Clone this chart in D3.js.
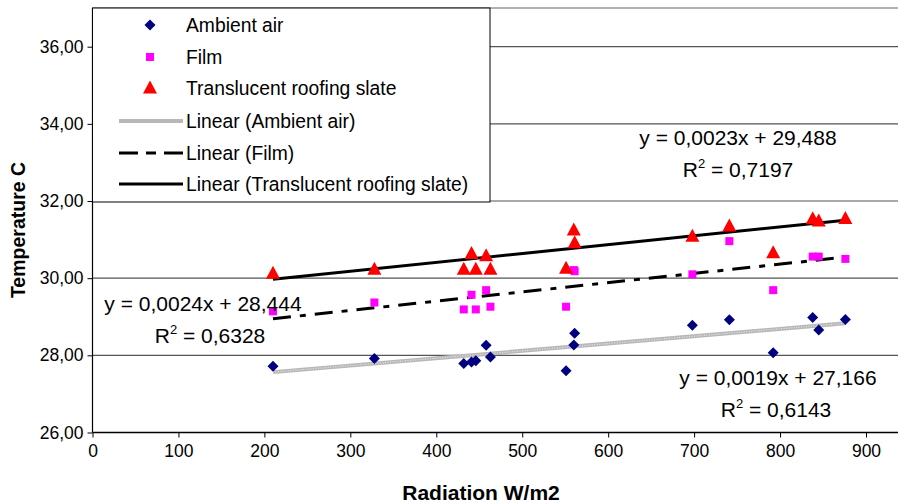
<!DOCTYPE html>
<html><head><meta charset="utf-8">
<script src="https://cdn.jsdelivr.net/npm/d3@7/dist/d3.min.js"></script>
<style>body{margin:0;background:#fff}svg{display:block;font-family:"Liberation Sans",Arial,sans-serif}</style>
</head><body><svg id="c" width="898" height="504"></svg>
<script>
const radiation = [210, 328, 432, 441, 446, 458, 463, 551, 560, 561, 698, 741, 792, 838, 845, 876];
const ambientAir = [27.72, 27.92, 27.79, 27.83, 27.86, 28.26, 27.96, 27.60, 28.27, 28.57, 28.78, 28.92, 28.07, 28.98, 28.66, 28.93];
const film = [29.14, 29.37, 29.19, 29.57, 29.19, 29.69, 29.26, 29.26, 30.21, 30.18, 30.10, 30.96, 29.69, 30.56, 30.56, 30.50];
const slate = [30.13, 30.23, 30.23, 30.64, 30.23, 30.58, 30.23, 30.26, 31.25, 30.92, 31.09, 31.35, 30.66, 31.54, 31.48, 31.55];
const seriesNames = ["Ambient air", "Film", "Translucent roofing slate"];
const trendNames = ["Linear (Ambient air)", "Linear (Film)", "Linear (Translucent roofing slate)"];
const slopes = [0.0019, 0.0024, 0.0023];
const intercepts = [27.166, 28.444, 29.488];
const r2 = ["0,6143", "0,6328", "0,7197"];
const xTicks = [0, 100, 200, 300, 400, 500, 600, 700, 800, 900];
const yTicks = [26, 28, 30, 32, 34, 36];

(function () {
const svg = d3.select("#c");
const pL = 92.5, pR = 898, pT = 8, pB = 432.5;
const x = d3.scaleLinear().domain([0, 900]).range([pL, 866]);
const y = d3.scaleLinear().domain([26, 36]).range([pB, 46.7]);
const fmtY = d => d.toFixed(2).replace(".", ",");

// gridlines
svg.append("g").selectAll("line").data(yTicks.filter(d => d > 26)).join("line")
  .attr("x1", pL).attr("x2", pR).attr("y1", d => y(d)).attr("y2", d => y(d))
  .attr("stroke", "#555").attr("stroke-width", 1.2);
svg.append("line").attr("x1", pL).attr("x2", pR).attr("y1", pT).attr("y2", pT)
  .attr("stroke", "#999").attr("stroke-width", 1.5);

// axes
const ya = svg.append("g").attr("transform", `translate(${pL},0)`)
  .call(d3.axisLeft(y).tickValues(yTicks).tickFormat(fmtY).tickSize(5).tickPadding(4));
ya.select(".domain").remove();
ya.selectAll("text").attr("font-size", 17.5).attr("font-family", "Liberation Sans").attr("fill", "#000");
ya.selectAll("line").attr("stroke", "#000");
svg.append("line").attr("x1", pL).attr("x2", pL).attr("y1", pT).attr("y2", pB).attr("stroke", "#000").attr("stroke-width", 1.2);

const xa = svg.append("g").attr("transform", `translate(0,${pB})`)
  .call(d3.axisBottom(x).tickValues(xTicks).tickFormat(d3.format("d")).tickSize(5).tickPadding(7));
xa.select(".domain").remove();
xa.selectAll("text").attr("font-size", 17.5).attr("font-family", "Liberation Sans").attr("fill", "#000");
xa.selectAll("line").attr("stroke", "#000");
svg.append("line").attr("x1", pL).attr("x2", pR).attr("y1", pB).attr("y2", pB).attr("stroke", "#000").attr("stroke-width", 1.5);

// axis titles
svg.append("text").attr("x", 481).attr("y", 500).attr("text-anchor", "middle")
  .attr("font-weight", "bold").attr("font-size", 21).text("Radiation W/m2");
svg.append("text").attr("transform", "translate(25,230) rotate(-90)").attr("text-anchor", "middle")
  .attr("font-weight", "bold").attr("font-size", 19.5).text("Temperature C");

// trendlines
const trendStyles = [
  {stroke: "#b8b8b8", width: 4, dash: null},
  {stroke: "#000", width: 3, dash: "18,9,6,9"},
  {stroke: "#000", width: 3, dash: null}
];
const xr = d3.extent(radiation);
slopes.forEach((m, i) => {
  const line = svg.append("line")
    .attr("x1", x(xr[0])).attr("x2", x(xr[1]))
    .attr("y1", y(intercepts[i] + m * xr[0])).attr("y2", y(intercepts[i] + m * xr[1]))
    .attr("stroke", trendStyles[i].stroke).attr("stroke-width", trendStyles[i].width);
  if (trendStyles[i].dash) line.attr("stroke-dasharray", trendStyles[i].dash);
  if (i === 0) {
    svg.append("line")
      .attr("x1", x(xr[0])).attr("x2", x(xr[1]))
      .attr("y1", y(intercepts[i] + m * xr[0])).attr("y2", y(intercepts[i] + m * xr[1]))
      .attr("stroke", "#e6e6e6").attr("stroke-width", 1.2).attr("stroke-dasharray", "1,1.5");
  }
});

// markers
function drawDiamond(g, cx, cy) {
  g.append("path").attr("d", `M${cx},${cy-5.5}L${cx+5.5},${cy}L${cx},${cy+5.5}L${cx-5.5},${cy}Z`).attr("fill", "#000080");
}
function drawSquare(g, cx, cy) {
  g.append("rect").attr("x", cx - 4).attr("y", cy - 4).attr("width", 8).attr("height", 8).attr("fill", "#ff00ff");
}
function drawTri(g, cx, cy) {
  g.append("path").attr("d", `M${cx},${cy-7.5}L${cx+7},${cy+5.5}L${cx-7},${cy+5.5}Z`).attr("fill", "#ff0000");
}
const gm = svg.append("g");
radiation.forEach((r, i) => drawDiamond(gm, x(r), y(ambientAir[i])));
radiation.forEach((r, i) => drawSquare(gm, x(r), y(film[i])));
radiation.forEach((r, i) => drawTri(gm, x(r), y(slate[i])));

// equation labels
function eqLabel(i, cx, cy, cx2) {
  const eq = `y = ${slopes[i].toFixed(4).replace(".", ",")}x + ${intercepts[i].toFixed(3).replace(".", ",")}`;
  svg.append("text").attr("x", cx).attr("y", cy).attr("text-anchor", "middle").attr("font-size", 21).text(eq);
  const t = svg.append("text").attr("x", cx2).attr("y", cy + 32).attr("text-anchor", "middle").attr("font-size", 21);
  t.append("tspan").text("R");
  t.append("tspan").attr("font-size", 13).attr("dy", -9).text("2");
  t.append("tspan").attr("dy", 9).text(" = " + r2[i]);
}
eqLabel(2, 738, 145, 738);
eqLabel(1, 203, 311, 210);
eqLabel(0, 778, 385, 776);

// legend
const lg = svg.append("g");
lg.append("rect").attr("x", pL).attr("y", pT).attr("width", 490 - pL).attr("height", 202 - pT)
  .attr("fill", "#fff").attr("stroke", "#000").attr("stroke-width", 1);
const rowsY = [25, 57, 88, 121, 153, 184];
drawDiamond(lg, 150, rowsY[0]);
drawSquare(lg, 150, rowsY[1]);
drawTri(lg, 150, rowsY[2]);
[0, 1, 2].forEach(i => {
  const yy = rowsY[3 + i];
  const l = lg.append("line").attr("x1", 119).attr("x2", 183).attr("y1", yy).attr("y2", yy)
    .attr("stroke", trendStyles[i].stroke).attr("stroke-width", trendStyles[i].width);
  if (i === 1) l.attr("stroke-dasharray", "19,8,10,8");
});
seriesNames.concat(trendNames).forEach((n, i) => {
  lg.append("text").attr("x", 186).attr("y", rowsY[i]).attr("dy", "0.35em").attr("font-size", 19.3).text(n);
});
})();
</script></body></html>
